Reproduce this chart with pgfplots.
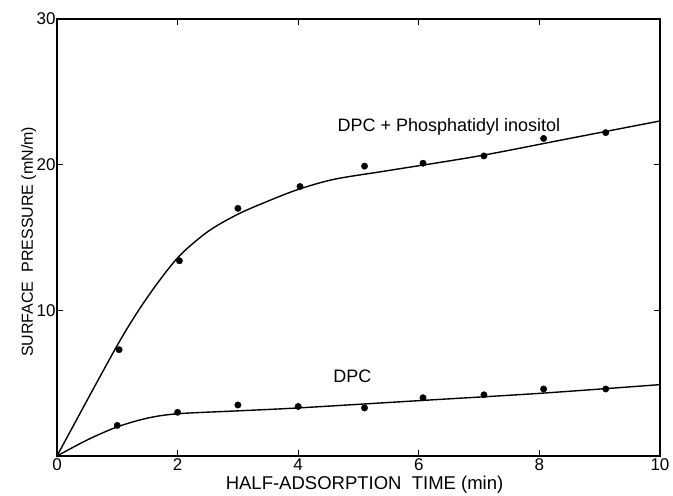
\documentclass[border=0pt]{standalone}
\usepackage{fontspec}
\setmainfont{Liberation Sans}
\usepackage{pgfplots}
\pgfplotsset{compat=1.18}

\begin{document}
\begin{tikzpicture}
\begin{axis}[
    scale only axis,
    width=603pt, height=437pt,
    xmin=0, xmax=10, ymin=0, ymax=30,
    xtick={0,2,4,6,8,10},
    ytick={10,20,30},
    tick align=inside,
    major tick length=6pt,
    axis line style={line width=1.2pt},
    tick style={line width=1pt, black},
    tick label style={font=\fontsize{17}{17}\selectfont},
    xticklabel style={yshift=1pt},
    yticklabel style={xshift=2pt},
    /pgf/number format/assume math mode=true,
    xlabel={HALF-ADSORPTION\ \ TIME (min)},
    ylabel={SURFACE\ \ PRESSURE (mN/m)},
    xlabel style={font=\fontsize{18.5}{18.5}\selectfont,
        at={(axis description cs:0.51,-0.066)}, anchor=center},
    ylabel style={font=\fontsize{16}{16}\selectfont,
        at={(axis description cs:-0.047,0.49)}, anchor=center},
    every axis plot/.append style={black},
]
\coordinate (tl) at (rel axis cs:0,1);
\coordinate (br) at (rel axis cs:1,0);
% measured points
\addplot[only marks, mark=*, mark size=3.2pt] coordinates {
    (1.03,7.3)(2.03,13.4)(3.0,17.0)(4.03,18.5)(5.1,19.9)
    (6.07,20.1)(7.08,20.6)(8.07,21.8)(9.1,22.2)};
\addplot[only marks, mark=*, mark size=3.2pt] coordinates {
    (1.0,2.1)(2.0,3.0)(3.0,3.5)(4.0,3.4)(5.1,3.3)
    (6.07,4.0)(7.08,4.2)(8.07,4.6)(9.1,4.6)};
% fitted curves (hand-drawn in the original)
\addplot[line width=1.4pt, smooth, tension=0.5] coordinates {
    (0,0)(1,7.6)(1.5,10.9)(2,13.6)(2.5,15.4)(3,16.6)(3.5,17.5)(4,18.3)
    (4.6,19.0)(5.5,19.6)(7,20.6)(8.5,21.8)(10,23.0)};
\addplot[line width=1.4pt, smooth, tension=0.5] coordinates {
    (0,0)(0.5,1.1)(1,2.0)(1.5,2.6)(2,2.9)(3,3.1)(4,3.3)
    (6,3.8)(8,4.3)(10,4.9)};
\node[font=\fontsize{18}{18}\selectfont] at (axis cs:6.5,22.6) {DPC + Phosphatidyl inositol};
\node[font=\fontsize{18}{18}\selectfont] at (axis cs:4.9,5.5) {DPC};
\end{axis}
\pgfresetboundingbox
\path[use as bounding box] ([shift={(-57pt,19pt)}]tl) rectangle ([shift={(13pt,-40pt)}]br);
\end{tikzpicture}
\end{document}
